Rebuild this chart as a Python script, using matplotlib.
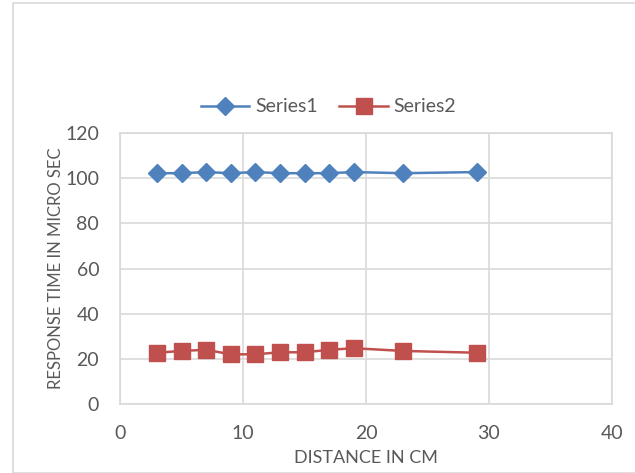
import matplotlib.pyplot as plt
from matplotlib.patches import Rectangle

distance = [3, 5, 7, 9, 11, 13, 15, 17, 19, 23, 29]
series1 = [102.2, 102.2, 102.7, 102.2, 102.7, 102.2, 102.2, 102.2, 102.7, 102.2, 102.7]
series2 = [22.7, 23.5, 24.0, 22.0, 22.0, 22.9, 22.9, 24.0, 24.7, 23.5, 22.7]

plt.rcParams['font.family'] = ['Lato', 'DejaVu Sans']
text_color = '#595959'
grid_color = '#d9d9d9'

W, H = 635, 473
fig = plt.figure(figsize=(W / 100, H / 100), dpi=100)

# outer chart border
fig.patches.append(Rectangle((13 / W, 0), 1, 1 - 3 / H, transform=fig.transFigure,
                             fill=False, edgecolor=grid_color, linewidth=1.2))

left, right, top, bottom = 120, 612, 133, 404
ax = fig.add_axes([left / W, 1 - bottom / H, (right - left) / W, (bottom - top) / H])

ax.plot(distance, series1, color='#4F81BD', marker='D', markersize=9, linewidth=1.8, label='Series1')
ax.plot(distance, series2, color='#C0504D', marker='s', markersize=11, linewidth=1.8, label='Series2')

ax.set_xlim(0, 40)
ax.set_ylim(0, 120)
ax.set_xticks(range(0, 41, 10))
ax.set_yticks(range(0, 121, 20))
ax.grid(True, color=grid_color, linewidth=1.2)
ax.set_axisbelow(True)
for s in ax.spines.values():
    s.set_color(grid_color)
    s.set_linewidth(1.2)
ax.tick_params(length=0, labelsize=14, colors=text_color)
ax.tick_params(axis='x', pad=15)
ax.tick_params(axis='y', pad=15)

ax.set_xlabel('DISTANCE IN CM', fontsize=13, color=text_color, labelpad=6)
ax.set_ylabel('RESPONSE TIME IN MICRO SEC', fontsize=12, color=text_color, labelpad=0.5)

ax.legend(loc='lower center', bbox_to_anchor=(0.424, 1.0), ncol=2, frameon=False,
          fontsize=14, labelcolor=text_color, handlelength=2.5, columnspacing=1.1,
          handletextpad=0.3)

fig.savefig('out.png', dpi=100)
